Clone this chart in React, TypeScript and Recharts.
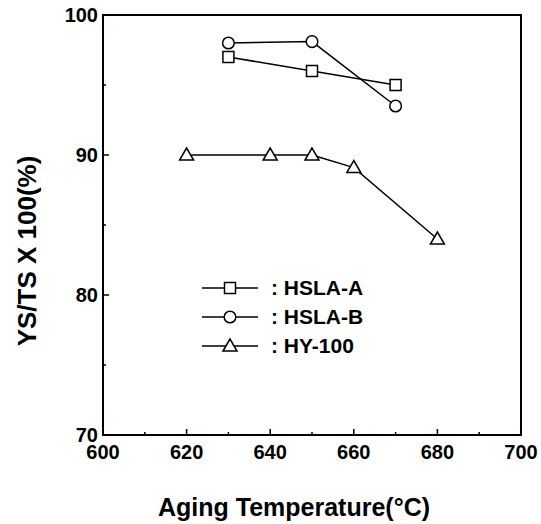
import React from "react";
import { LineChart, Line, XAxis, YAxis, Legend, ReferenceArea } from "recharts";

const FONT = '"Liberation Sans", Arial, sans-serif';

// Aging temperature (°C) for each series
const hslaATemp = [630, 650, 670];
const hslaAValue = [97.0, 96.0, 95.0];

const hslaBTemp = [630, 650, 670];
const hslaBValue = [98.0, 98.1, 93.5];

const hy100Temp = [620, 640, 650, 660, 680];
const hy100Value = [90.0, 90.0, 90.0, 89.1, 84.0];

const xTicks = [600, 610, 620, 630, 640, 650, 660, 670, 680, 690, 700];
const yTicks = [70, 75, 80, 85, 90, 95, 100];

const toPoints = (xs: number[], ys: number[]) =>
  xs.map((t, i) => ({ temp: t, value: ys[i] }));

const hslaA = toPoints(hslaATemp, hslaAValue);
const hslaB = toPoints(hslaBTemp, hslaBValue);
const hy100 = toPoints(hy100Temp, hy100Value);

const Square = ({ cx, cy }: any) => (
  <rect x={cx - 5.5} y={cy - 5.5} width={11} height={11} fill="#fff" stroke="#000" strokeWidth={1.5} />
);
const Circle = ({ cx, cy }: any) => (
  <circle cx={cx} cy={cy} r={5.8} fill="#fff" stroke="#000" strokeWidth={1.5} />
);
const Triangle = ({ cx, cy }: any) => (
  <polygon
    points={`${cx},${cy - 7} ${cx - 7},${cy + 5} ${cx + 7},${cy + 5}`}
    fill="#fff"
    stroke="#000"
    strokeWidth={1.5}
  />
);

const BottomTick = ({ x, y, payload }: any) => {
  const major = payload.value % 20 === 0;
  return (
    <g>
      <line x1={x} y1={y} x2={x} y2={y - (major ? 6 : 3)} stroke="#000" strokeWidth={1.5} />
      {major && (
        <text x={x} y={y + 24} textAnchor="middle" fontSize={20} fontWeight="bold" fontFamily={FONT} fill="#000">
          {payload.value}
        </text>
      )}
    </g>
  );
};

const TopTick = ({ x, y, payload }: any) => {
  const major = payload.value % 20 === 0;
  return <line x1={x} y1={y} x2={x} y2={y + (major ? 6 : 3)} stroke="#000" strokeWidth={1.5} />;
};

const LeftTick = ({ x, y, payload }: any) => {
  const major = payload.value % 10 === 0;
  return (
    <g>
      <line x1={x} y1={y} x2={x + (major ? 6 : 3)} y2={y} stroke="#000" strokeWidth={1.5} />
      {major && (
        <text x={x - 5} y={y + 7} textAnchor="end" fontSize={20} fontWeight="bold" fontFamily={FONT} fill="#000">
          {payload.value}
        </text>
      )}
    </g>
  );
};

const RightTick = ({ x, y, payload }: any) => {
  const major = payload.value % 10 === 0;
  return <line x1={x} y1={y} x2={x - (major ? 6 : 3)} y2={y} stroke="#000" strokeWidth={1.5} />;
};

const markerFor: Record<string, (p: any) => React.ReactElement> = {
  "HSLA-A": Square,
  "HSLA-B": Circle,
  "HY-100": Triangle,
};

const LegendContent = ({ payload }: any) => (
  <div style={{ fontFamily: FONT }}>
    {(payload || []).map((entry: any) => {
      const Marker = markerFor[entry.value];
      return (
        <div key={entry.value} style={{ display: "flex", alignItems: "center", height: 29 }}>
          <svg width={60} height={20}>
            <line x1={2} y1={10} x2={58} y2={10} stroke="#000" strokeWidth={1.5} />
            {Marker && <Marker cx={30} cy={10} />}
          </svg>
          <span style={{ fontSize: 21, fontWeight: "bold", marginLeft: 11, color: "#000" }}>
            : {entry.value}
          </span>
        </div>
      );
    })}
  </div>
);

export default function App() {
  return (
    <div style={{ position: "absolute", left: 0, top: 0, width: 541, height: 524, background: "#fff" }}>
      <LineChart width={541} height={524} margin={{ top: 14, right: 19, bottom: 0, left: 0 }}>
        <XAxis
          dataKey="temp"
          type="number"
          domain={[600, 700]}
          ticks={xTicks}
          interval={0}
          height={89}
          tickSize={0}
          tickMargin={0}
          tick={<BottomTick />}
          axisLine={{ stroke: "#000", strokeWidth: 2 }}
          allowDuplicatedCategory={false}
          label={{
            content: () => (
              <text x={294} y={516} textAnchor="middle" fontSize={25} fontWeight="bold" fontFamily={FONT} fill="#000">
                Aging Temperature(°C)
              </text>
            ),
          }}
        />
        <XAxis
          xAxisId="top"
          orientation="top"
          dataKey="temp"
          type="number"
          domain={[600, 700]}
          ticks={xTicks}
          interval={0}
          height={1}
          tickSize={0}
          tickMargin={0}
          tick={<TopTick />}
          axisLine={{ stroke: "#000", strokeWidth: 2 }}
        />
        <YAxis
          type="number"
          domain={[70, 100]}
          ticks={yTicks}
          interval={0}
          width={103}
          tickSize={0}
          tickMargin={0}
          tick={<LeftTick />}
          axisLine={{ stroke: "#000", strokeWidth: 2 }}
          label={{
            content: () => (
              <text
                x={27}
                y={251}
                transform="rotate(-90, 27, 251)"
                textAnchor="middle"
                dominantBaseline="central"
                fontSize={26}
                fontWeight="bold"
                fontFamily={FONT}
                fill="#000"
              >
                YS/TS X 100(%)
              </text>
            ),
          }}
        />
        <YAxis
          yAxisId="right"
          orientation="right"
          type="number"
          domain={[70, 100]}
          ticks={yTicks}
          interval={0}
          width={1}
          tickSize={0}
          tickMargin={0}
          tick={<RightTick />}
          axisLine={{ stroke: "#000", strokeWidth: 2 }}
        />
        <ReferenceArea
          x1={600}
          x2={700}
          y1={70}
          y2={100}
          fill="none"
          fillOpacity={0}
          stroke="#000"
          strokeWidth={2}
        />
        <Legend
          layout="vertical"
          align="center"
          verticalAlign="middle"
          content={<LegendContent />}
          wrapperStyle={{ position: "absolute", left: 200, top: 273, width: 200, height: "auto" }}
        />
        <Line
          data={hslaA}
          dataKey="value"
          name="HSLA-A"
          stroke="#000"
          strokeWidth={1.5}
          dot={<Square />}
          isAnimationActive={false}
        />
        <Line
          data={hslaB}
          dataKey="value"
          name="HSLA-B"
          stroke="#000"
          strokeWidth={1.5}
          dot={<Circle />}
          isAnimationActive={false}
        />
        <Line
          data={hy100}
          dataKey="value"
          name="HY-100"
          stroke="#000"
          strokeWidth={1.5}
          dot={<Triangle />}
          isAnimationActive={false}
        />
      </LineChart>
    </div>
  );
}
